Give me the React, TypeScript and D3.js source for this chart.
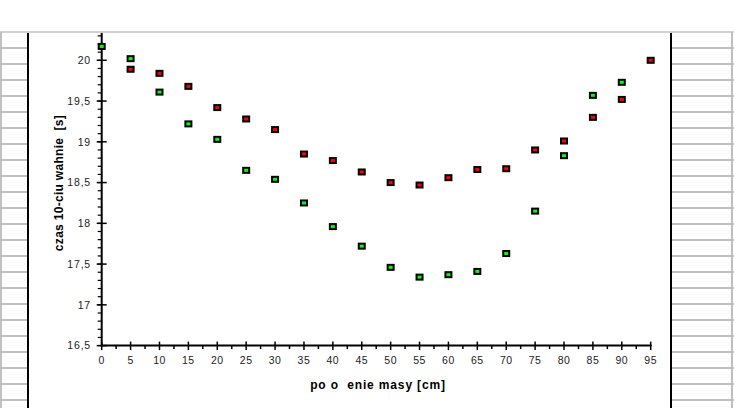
import React from "react";
import * as d3 from "d3";

const positions = [0, 5, 10, 15, 20, 25, 30, 35, 40, 45, 50, 55, 60, 65, 70, 75, 80, 85, 90, 95];
const greenValues: (number | null)[] = [20.17, 20.02, 19.61, 19.22, 19.03, 18.65, 18.54, 18.25, 17.96, 17.72, 17.46, 17.34, 17.37, 17.41, 17.63, 18.15, 18.83, 19.57, 19.73, null];
const redValues: (number | null)[] = [null, 19.89, 19.84, 19.68, 19.42, 19.28, 19.15, 18.85, 18.77, 18.63, 18.5, 18.47, 18.56, 18.66, 18.67, 18.9, 19.01, 19.3, 19.52, 20.0];
const yTicks = [16.5, 17, 17.5, 18, 18.5, 19, 19.5, 20];
const xTicks = positions;
const xTitle = "po o  enie masy [cm]";
const yTitle = "czas 10-ciu wahnie  [s]";

const W = 734;
const H = 408;

export default function App() {
  const x = d3.scaleLinear().domain([0, 95]).range([101.7, 650.7]);
  const y = d3.scaleLinear().domain([16.5, 20]).range([345.6, 60.3]);
  const yTop = 33;
  const yMinor = d3.range(165, 204).map((v) => v / 10).filter((v) => y(v) >= yTop - 0.5);
  const xMinor = d3.range(0, 95, 5).map((v) => v + 2.5);
  const rows = d3.range(32, H + 16, 16).slice(1);
  const font = "'Liberation Sans', Arial, sans-serif";
  const marker = (cx: number, cy: number, color: string, key: string) => (
    <g key={key}>
      <rect x={cx - 4} y={cy - 3.5} width={8} height={7} fill="#000" />
      <rect x={cx - 2} y={cy - 1.5} width={4} height={3} fill={color} />
    </g>
  );
  return (
    <svg width={W} height={H} style={{ position: "absolute", left: 0, top: 0 }}>
      <rect x={0} y={0} width={W} height={H} fill="#fff" />
      {/* spreadsheet grid */}
      <line x1={0} x2={W} y1={32} y2={32} stroke="#c0c0c0" strokeWidth={1.5} />
      {rows.map((r) => (
        <g key={r}>
          <line x1={0} x2={28} y1={r} y2={r} stroke="#c0c0c0" strokeWidth={2} />
          <line x1={671} x2={734} y1={r} y2={r} stroke="#c0c0c0" strokeWidth={2} />
        </g>
      ))}
      <line x1={1} x2={1} y1={32} y2={H} stroke="#c0c0c0" strokeWidth={2} />
      <line x1={732} x2={732} y1={32} y2={H} stroke="#c0c0c0" strokeWidth={2} />
      <line x1={28} x2={28} y1={33} y2={H} stroke="#000" strokeWidth={2} />
      <line x1={671} x2={671} y1={33} y2={H} stroke="#000" strokeWidth={2} />

      {/* y axis */}
      <line x1={x(0)} x2={x(0)} y1={yTop} y2={y(16.5) + 1} stroke="#000" strokeWidth={2} />
      {yMinor.map((v) => (
        <line key={"ym" + v} x1={x(0) - 4} x2={x(0)} y1={y(v)} y2={y(v)} stroke="#000" strokeWidth={1.2} />
      ))}
      {yTicks.map((v) => (
        <g key={"y" + v}>
          <line x1={x(0) - 5} x2={x(0) + 5} y1={y(v)} y2={y(v)} stroke="#000" strokeWidth={1.5} />
          <text x={91} y={y(v) + 3.8} textAnchor="end" fontFamily={font} fontSize={10.5} letterSpacing={0.8} fill="#222">
            {String(v).replace(".", ",")}
          </text>
        </g>
      ))}

      {/* x axis */}
      <line x1={x(0) - 1} x2={x(95) + 1} y1={y(16.5)} y2={y(16.5)} stroke="#000" strokeWidth={2} />
      {xMinor.map((v) => (
        <line key={"xm" + v} x1={x(v)} x2={x(v)} y1={y(16.5)} y2={y(16.5) + 3.5} stroke="#000" strokeWidth={1.5} />
      ))}
      {xTicks.map((v) => (
        <g key={"x" + v}>
          <line x1={x(v)} x2={x(v)} y1={y(16.5) - 4} y2={y(16.5) + 4.5} stroke="#000" strokeWidth={1.5} />
          <text x={x(v)} y={364} textAnchor="middle" fontFamily={font} fontSize={10.5} letterSpacing={0.5} fill="#222">
            {v}
          </text>
        </g>
      ))}

      {/* titles */}
      <text x={378} y={388.5} textAnchor="middle" fontFamily={font} fontWeight="bold" fontSize={12} letterSpacing={0.85} style={{ whiteSpace: "pre" }}>
        {xTitle}
      </text>
      <text
        transform={`translate(63,${183}) rotate(-90)`}
        textAnchor="middle"
        fontFamily={font}
        fontWeight="bold"
        fontSize={12}
        letterSpacing={0.3}
        style={{ whiteSpace: "pre" }}
      >
        {yTitle}
      </text>

      {/* data */}
      {positions.map((p, i) =>
        redValues[i] != null ? marker(x(p), y(redValues[i] as number), "#ff0000", "r" + i) : null
      )}
      {positions.map((p, i) =>
        greenValues[i] != null ? marker(x(p), y(greenValues[i] as number), "#00ff00", "g" + i) : null
      )}
    </svg>
  );
}
